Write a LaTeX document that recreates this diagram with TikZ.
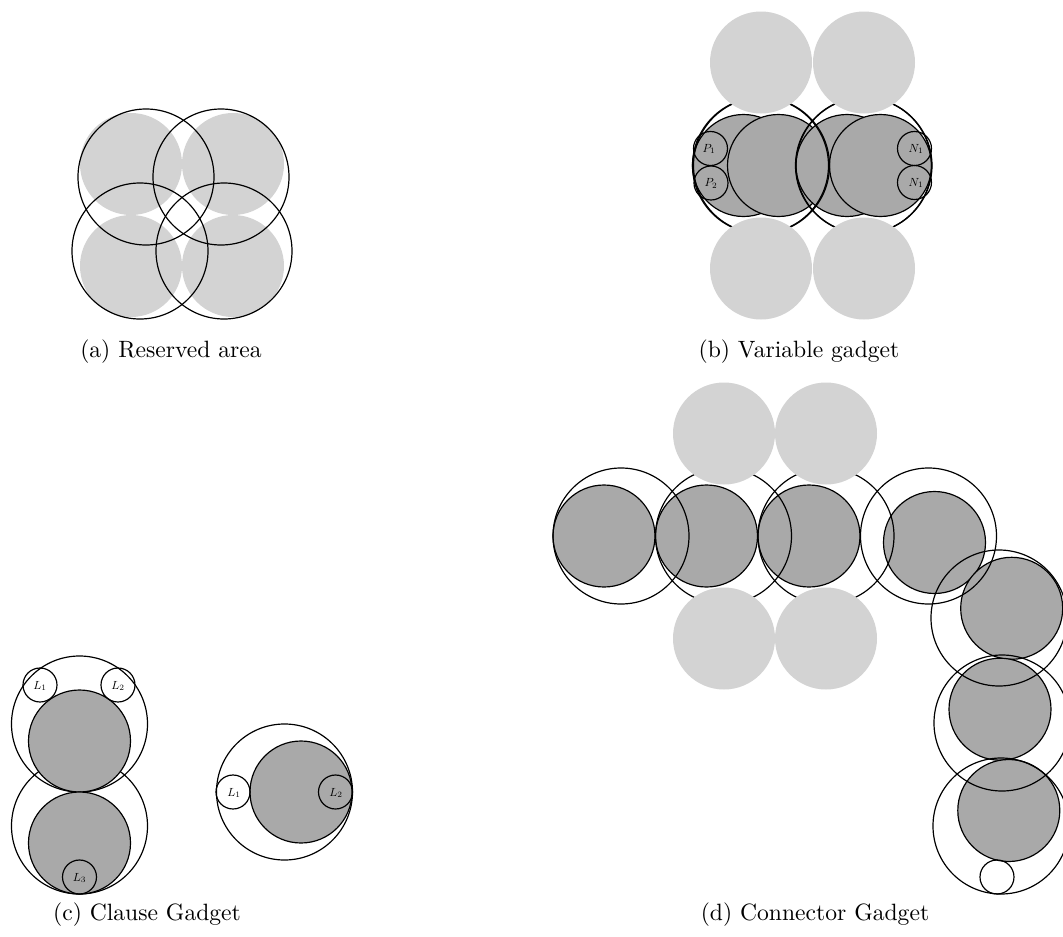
\documentclass[tikz,border=0pt]{standalone}
\usepackage{graphicx}
\definecolor{lgray}{RGB}{211,211,211}
\definecolor{dgray}{RGB}{169,169,169}
\begin{document}
\begin{tikzpicture}[x=0.4237pt,y=-0.4237pt,line width=0.5pt,
  lightdisk/.style={fill=lgray},
  darkdisk/.style={fill=dgray,draw=black},
  ring/.style={draw=black},
  lab/.style={inner sep=0pt},
  caption/.style={inner sep=0pt}]
\useasboundingbox (0,0) rectangle (1063,937);
% ---------- (a) Reserved area ----------
\foreach \p in {(131,164),(233,164),(131,266),(233,266)}
  \path[lightdisk] \p circle (51);
\foreach \p in {(146,177),(221,177),(140,251),(224,251)}
  \path[ring] \p circle (68);
\node[caption] (capa) at (171,352) {(a) Reserved area};
% ---------- (b) Variable gadget ----------
\foreach \p in {(743.5,165.5),(778.5,165.5),(847,165.5),(880.5,165.5)}
  \path[darkdisk] \p circle (51);
\foreach \p in {(760.5,165.5),(761.5,165.5),(864,165.5),(863.5,165.5)}
  \path[ring] \p circle (68);
\foreach \p in {(761,62.5),(864,62.5),(761,268.5),(864,268.5)}
  \path[lightdisk] \p circle (51);
\path[ring] (710.5,148.5) circle (17);
\path[ring] (711,183) circle (17);
\path[ring] (914.5,148.5) circle (17);
\path[ring] (914.5,182.5) circle (17);
\node[lab] (p1) at (709,149) {\scalebox{0.5}{$P_1$}};
\node[lab] (p2) at (711,183.5) {\scalebox{0.5}{$P_2$}};
\node[lab] (n1a) at (916,149) {\scalebox{0.5}{$N_1$}};
\node[lab] (n1b) at (916,183) {\scalebox{0.5}{$N_1$}};
\node[caption] (capb) at (799,352) {(b) Variable gadget};
% ---------- (c) Clause gadget ----------
\path[ring] (79.5,724) circle (68);
\path[ring] (79.5,826) circle (68);
\path[darkdisk] (79.5,741) circle (51);
\path[darkdisk] (79.5,843) circle (51);
\path[ring] (40,685) circle (17);
\path[ring] (118,685) circle (17);
\path[ring] (79.5,877) circle (17);
\node[lab] (cl1) at (40,686) {\scalebox{0.5}{$L_1$}};
\node[lab] (cl2) at (118,686) {\scalebox{0.5}{$L_2$}};
\node[lab] (cl3) at (79.5,878) {\scalebox{0.5}{$L_3$}};
\path[ring] (284.5,792) circle (68);
\path[darkdisk] (301,792) circle (51);
\path[ring] (233,792) circle (17);
\path[ring] (335.5,792) circle (17);
\node[lab] (cr1) at (234,793) {\scalebox{0.5}{$L_1$}};
\node[lab] (cr2) at (336,793) {\scalebox{0.5}{$L_2$}};
\node[caption] (capc) at (147,915) {(c) Clause Gadget};
% ---------- (d) Connector gadget ----------
\foreach \p in {(604,536),(706.5,536),(809,536),(934.5,542.5),(1011.7,608.3),(1000,709.2),(1008.8,810.5)}
  \path[darkdisk] \p circle (51);
\foreach \p in {(621,536),(723.5,536),(826,536),(928.5,536),(999,618),(1002,723),(1001,826)}
  \path[ring] \p circle (68);
\foreach \p in {(724,433.5),(826,433.5),(724,638.5),(826,638.5)}
  \path[lightdisk] \p circle (51);
\path[ring] (997,877) circle (17);
\node[caption] (capd) at (815,915) {(d) Connector Gadget};
\end{tikzpicture}
\end{document}
